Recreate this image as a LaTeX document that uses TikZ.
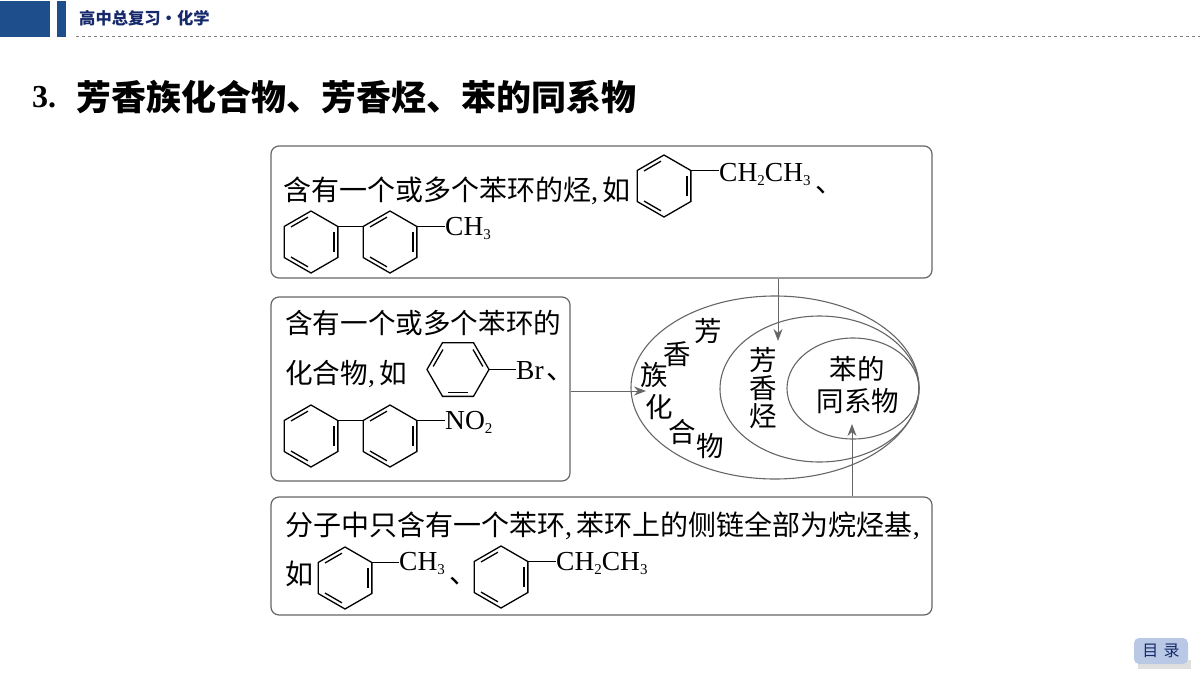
\documentclass[tikz,border=0pt]{standalone}
\usepackage{fontspec}
\setmainfont{Liberation Serif}
\newfontfamily\cjk{Noto Sans CJK SC}
\usetikzlibrary{shapes.geometric, arrows.meta}

\definecolor{headblue}{HTML}{1F4E8C}
\definecolor{headnavy}{HTML}{16296B}
\definecolor{framegray}{HTML}{666666}
\definecolor{buttonblue}{HTML}{B9C9E5}

\newcommand{\lowidx}[1]{\raisebox{-4pt}{\fontsize{15}{15}\selectfont #1}}

\tikzset{
    ringline/.style = {line width = 1.3pt, black},
    textbox/.style = {
        draw = framegray,
        line width = 1.2pt,
        rounded corners = 8pt,
        inner sep = 0pt
    },
    setline/.style = {
        ellipse,
        draw = framegray,
        line width = 1.1pt,
        inner sep = 0pt
    },
    pointer/.style = {
        -{Stealth[length = 12pt, width = 9pt]},
        draw = framegray,
        fill = framegray,
        line width = 1pt
    },
    body/.style = {
        anchor = west,
        inner sep = 0pt,
        font = \fontsize{28}{28}\selectfont\cjk
    },
    formula/.style = {
        anchor = west,
        inner sep = 0pt,
        font = \fontsize{27.5}{28}\selectfont
    },
    setlabel/.style = {
        inner sep = 0pt,
        font = \fontsize{27.5}{28}\selectfont\cjk
    }
}

% Benzene ring: name, centre x, centre y, angle of the first corner.
\newcommand{\benzring}[4]{%
    \coordinate (#1) at (#2,#3);
    \foreach \k in {0,...,5} {
        \path (#1) ++({#4+60*\k}:31pt) coordinate (#1-\k);
    }
    \draw[ringline] (#1-0) -- (#1-1) -- (#1-2) -- (#1-3) -- (#1-4) -- (#1-5) -- cycle;
    \foreach \k in {1,3,5} {
        \draw[ringline] (#1) ++({#4+60*\k+7}:25pt) -- ([shift={({#4+60*\k+53}:25pt)}]#1);
    }
}

\begin{document}
\begin{tikzpicture}[x = 1pt, y = -1pt]
    \useasboundingbox (0,0) rectangle (1200,675);

    % Page header.
    \fill[headblue] (0,1) rectangle (50,37);
    \fill[headblue] (57,1) rectangle (66,37);
    \draw[gray, dashed, line width = 0.6pt] (76,36) -- (1200,36);
    \node[anchor = west, inner sep = 0pt, text = headnavy, font = \fontsize{16.3}{17}\selectfont\cjk\bfseries]
        (header) at (79,18) {高中总复习·化学};

    % Title.
    \node[anchor = west, inner sep = 0pt, font = \fontsize{32}{32}\selectfont\bfseries]
        (titlenum) at (32,97) {3.};
    \node[anchor = west, inner sep = 0pt, font = \fontsize{35}{35}\selectfont\cjk\bfseries]
        (title) at (76,97) {芳香族化合物、芳香烃、苯的同系物};

    % Frames.
    \node[textbox, minimum width = 661pt, minimum height = 132pt] (boxhydro) at (601.5,212) {};
    \node[textbox, minimum width = 299pt, minimum height = 184pt] (boxaroma) at (420.5,389) {};
    \node[textbox, minimum width = 661pt, minimum height = 118pt] (boxhomo)  at (601.5,556) {};

    % Upper frame.
    \node[body] (hydrotext) at (283,190.5) {含有一个或多个苯环的烃{\rmfamily,\,}如};
    \benzring{hydroa}{664}{186}{30}
    \node[formula] (hydroethyl) at (719,174) {CH\lowidx{2}CH\lowidx{3}};
    \node[body] (hydrocomma) at (815,190) {、};
    \benzring{hydrob}{311}{242}{30}
    \benzring{hydroc}{390}{242}{30}
    \node[formula] (hydromethyl) at (445,228) {CH\lowidx{3}};
    \draw[ringline] (hydroa-0) -- (hydroethyl.west |- hydroa-0);
    \draw[ringline] (hydrob-0) -- (hydroc-2);
    \draw[ringline] (hydroc-0) -- (hydromethyl.west |- hydroc-0);

    % Middle frame.
    \node[body, font = \fontsize{27.6}{28}\selectfont\cjk] (aromatexta) at (285,323) {含有一个或多个苯环的};
    \node[body, font = \fontsize{27.6}{28}\selectfont\cjk] (aromatextb) at (285,374) {化合物{\rmfamily,\,}如};
    \benzring{aromaa}{458}{369.5}{60}
    \node[formula] (aromabr) at (516,371) {Br};
    \node[body] (aromacomma) at (546,377) {、};
    \benzring{aromab}{311}{436}{30}
    \benzring{aromac}{390}{436}{30}
    \node[formula] (aromano) at (445,422) {NO\lowidx{2}};
    \draw[ringline] (aromaa-5) -- (aromabr.west |- aromaa-5);
    \draw[ringline] (aromab-0) -- (aromac-2);
    \draw[ringline] (aromac-0) -- (aromano.west |- aromac-0);

    % Lower frame.
    \node[body] (homotext) at (285,525.5) {分子中只含有一个苯环{\rmfamily,\,}苯环上的侧链全部为烷烃基{\rmfamily,}};
    \node[body] (homoas) at (285,574) {如};
    \benzring{homoa}{345}{578}{30}
    \node[formula] (homomethyl) at (399,563) {CH\lowidx{3}};
    \node[body] (homocomma) at (449,581) {、};
    \benzring{homob}{501}{577}{30}
    \node[formula] (homoethyl) at (556,563) {CH\lowidx{2}CH\lowidx{3}};
    \draw[ringline] (homoa-0) -- (homomethyl.west |- homoa-0);
    \draw[ringline] (homob-0) -- (homoethyl.west |- homob-0);

    % Nested sets.
    \node[setline, minimum width = 288pt, minimum height = 183pt] (setaroma) at (775,387.5) {};
    \node[setline, minimum width = 199pt, minimum height = 146pt] (sethydro) at (819.5,389) {};
    \node[setline, minimum width = 132pt, minimum height = 101pt] (sethomo)  at (853,388.5) {};

    \foreach \name/\xpos/\ypos/\word in {%
        la/708/331/芳, lb/677/354/香, lc/654/375/族,
        ld/659/407/化, le/682/432/合, lf/710/446/物,
        ma/763/360/芳, mb/763/388/香, mc/763/416/烃,
        na/857/369/苯的, nb/858/401/同系物} {
        \node[setlabel] (\name) at (\xpos,\ypos) {\word};
    }

    % Pointers to the sets.
    \coordinate (tiphydro) at (778,341);
    \coordinate (tiparoma) at (646,391);
    \coordinate (tiphomo)  at (852,424);
    \draw[pointer] (boxhydro.south -| tiphydro) -- (tiphydro);
    \draw[pointer] (boxaroma.east |- tiparoma) -- (tiparoma);
    \draw[pointer] (boxhomo.north -| tiphomo) -- (tiphomo);

    % Contents button.
    \fill[gray!25] (1138,660) rectangle (1191,669);
    \node[fill = buttonblue, rounded corners = 5pt, minimum width = 54pt, minimum height = 26pt,
        inner sep = 0pt, text = headnavy, font = \fontsize{16}{16}\selectfont\cjk]
        (contents) at (1161,651) {目\,\,录};
\end{tikzpicture}
\end{document}
